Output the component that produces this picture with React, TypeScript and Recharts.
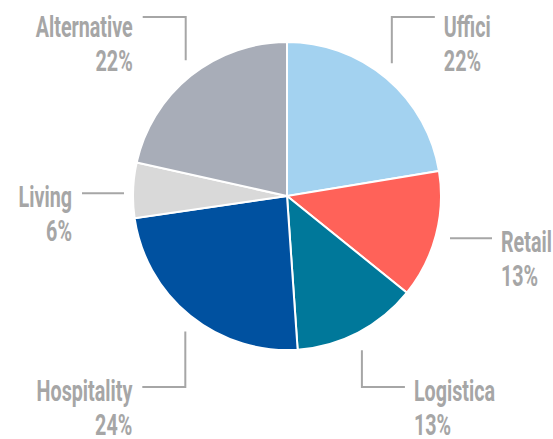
import { PieChart, Pie, Cell } from "recharts";

const categories = ["Uffici", "Retail", "Logistica", "Hospitality", "Living", "Alternative"];
const shares = [22.4, 13.4, 13.1, 23.8, 5.8, 21.5];
const colors = ["#a3d2f0", "#ff6259", "#00789a", "#0051a0", "#d9d9d9", "#a8adb8"];

const data = categories.map((name, i) => ({ name, value: shares[i] }));

const RAD = Math.PI / 180;
const GREY = "#a6a6a6";
const FONT = "Roboto, 'DejaVu Sans Condensed', sans-serif";

function renderLabel(props: any) {
  const { cx, cy, midAngle, outerRadius, index, percent } = props;
  const cos = Math.cos(-midAngle * RAD);
  const sin = Math.sin(-midAngle * RAD);
  const right = cos >= 0;
  const dir = right ? 1 : -1;
  const side = Math.abs(sin) < 0.5;
  let points: number[][];
  let lineY: number;
  let endX: number;
  let top = false;

  if (side) {
    lineY = cy + outerRadius * sin + 3;
    const sx = cx + dir * (outerRadius + 9);
    endX = sx + dir * 42;
    points = [[sx, lineY], [endX, lineY]];
  } else {
    top = sin < 0;
    const sx = cx + (outerRadius + 8) * cos;
    const sy = cy + (outerRadius + 20) * sin;
    lineY = cy + (top ? -179 : 191);
    endX = sx + dir * 43;
    points = [[sx, sy], [sx, lineY], [endX, lineY]];
  }

  const tx = endX + dir * (right ? 9 : 10);
  const base = lineY + (top ? 20 : 14);
  const anchor = right ? "start" : "end";
  const pct = `${Math.round(percent * 100)}%`;

  return (
    <g key={`lbl-${index}`}>
      <polyline
        points={points.map((p) => p.join(",")).join(" ")}
        fill="none"
        stroke={GREY}
        strokeWidth={2}
      />
      <text
        transform={`translate(${tx},${base}) scale(0.68,1)`}
        textAnchor={anchor}
        fill={GREY}
        fontFamily={FONT}
        fontWeight="bold"
        fontSize={29}
      >
        {categories[index]}
      </text>
      <text
        transform={`translate(${tx},${base + 34}) scale(0.68,1)`}
        textAnchor={anchor}
        fill={GREY}
        fontFamily={FONT}
        fontWeight="bold"
        fontSize={29}
      >
        {pct}
      </text>
    </g>
  );
}

export default function App() {
  return (
    <div style={{ width: 553, height: 439, background: "#fff" }}>
      <style>{"body{margin:0}"}</style>
      <PieChart width={553} height={439} margin={{ top: 0, right: 0, bottom: 0, left: 0 }}>
        <Pie
          data={data}
          dataKey="value"
          nameKey="name"
          cx={287}
          cy={196}
          outerRadius={154}
          startAngle={90}
          endAngle={-270}
          stroke="#ffffff"
          strokeWidth={2}
          label={renderLabel}
          labelLine={false}
          isAnimationActive={false}
        >
          {data.map((d, i) => (
            <Cell key={d.name} fill={colors[i]} />
          ))}
        </Pie>
      </PieChart>
    </div>
  );
}
